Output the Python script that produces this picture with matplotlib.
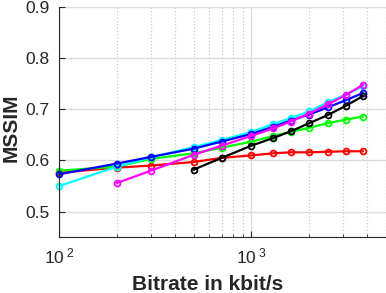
import matplotlib
matplotlib.use("Agg")
import matplotlib.pyplot as plt
from matplotlib.ticker import LogLocator, NullFormatter, FixedFormatter

plt.rcParams['font.family'] = ['Liberation Sans', 'DejaVu Sans']
plt.rcParams['mathtext.fontset'] = 'custom'
plt.rcParams['mathtext.rm'] = 'Liberation Sans'

###################### 
### Data
######################
rates_full = [100, 200, 300, 500, 700, 1000, 1300, 1600, 2000, 2500, 3100, 3800]
rates_200 = rates_full[1:]
rates_500 = rates_full[3:]

red = [0.576, 0.586, 0.590, 0.597, 0.605, 0.610, 0.614, 0.616, 0.616, 0.617, 0.618, 0.618]
green = [0.580, 0.588, 0.603, 0.614, 0.625, 0.637, 0.648, 0.656, 0.664, 0.673, 0.680, 0.686]
cyan = [0.550, 0.588, 0.606, 0.626, 0.640, 0.656, 0.671, 0.683, 0.696, 0.714, 0.729, 0.745]
blue = [0.573, 0.594, 0.607, 0.623, 0.637, 0.652, 0.666, 0.678, 0.690, 0.704, 0.718, 0.732]
magenta = [0.556, 0.580, 0.611, 0.629, 0.648, 0.663, 0.676, 0.692, 0.710, 0.728, 0.748]
black = [0.582, 0.605, 0.629, 0.644, 0.657, 0.673, 0.689, 0.707, 0.726]

xticks = [100, 1000]
xticklabels = [r'$\mathregular{10^{\;2}}$', r'$\mathregular{10^{\;3}}$']
yticks = [0.5, 0.6, 0.7, 0.8, 0.9]
yticklabels = ['0.5', '0.6', '0.7', '0.8', '0.9']

###################### 
### Draw
######################
fig = plt.figure(figsize=(3.86, 2.93), dpi=100)
ax = fig.add_axes([0.1536, 0.191, 0.8454, 0.784])

series = [
    (rates_full, red, '#ff0000'),
    (rates_full, green, '#00ff00'),
    (rates_full, cyan, '#00ffff'),
    (rates_full, blue, '#0000ff'),
    (rates_200, magenta, '#ff00ff'),
    (rates_500, black, '#000000'),
]
for xs, ys, col in series:
    ax.plot(xs, ys, '-o', color=col, linewidth=1.6, markersize=4.2,
            markeredgewidth=1.3, markerfacecolor='none', clip_on=False)

ax.set_xscale('log')
ax.set_xlim(100, 5000)
ax.set_ylim(0.45, 0.9)
ax.set_yticks(yticks)
ax.set_yticklabels(yticklabels)
ax.set_xticks(xticks)
ax.xaxis.set_major_formatter(FixedFormatter(xticklabels))
ax.xaxis.set_minor_locator(LogLocator(base=10, subs=range(2, 10)))
ax.xaxis.set_minor_formatter(NullFormatter())

ax.grid(which='major', axis='y', color='#dcdcdc', linestyle='-', linewidth=1)
ax.grid(which='major', axis='x', color='#dcdcdc', linestyle='-', linewidth=1)
ax.grid(which='minor', axis='x', color='#c8c8c8', linestyle=':', linewidth=0.9)
ax.set_axisbelow(True)

for s in ['top', 'right']:
    ax.spines[s].set_visible(False)
ax.spines['left'].set_color('#262626')
ax.spines['bottom'].set_color('#262626')
ax.tick_params(which='major', direction='in', length=4, width=0.8, colors='#262626',
               labelsize=12.5)
ax.tick_params(which='minor', direction='in', length=2, width=0.6, colors='#262626')
ax.tick_params(axis='y', which='major', pad=7)
ax.tick_params(axis='x', which='major', pad=7)

ax.set_xlabel('Bitrate in kbit/s', fontsize=15, fontweight='bold', color='#262626')
ax.xaxis.label.set_va('baseline')
ax.xaxis.set_label_coords(208 / 386, 3 / 293, transform=fig.transFigure)
ax.set_ylabel('MSSIM', fontsize=15, fontweight='bold', color='#262626')
ax.yaxis.label.set_va('baseline')
ax.yaxis.set_label_coords(16.5 / 386, 1 - 128 / 293, transform=fig.transFigure)

plt.savefig('out.png', dpi=100)
